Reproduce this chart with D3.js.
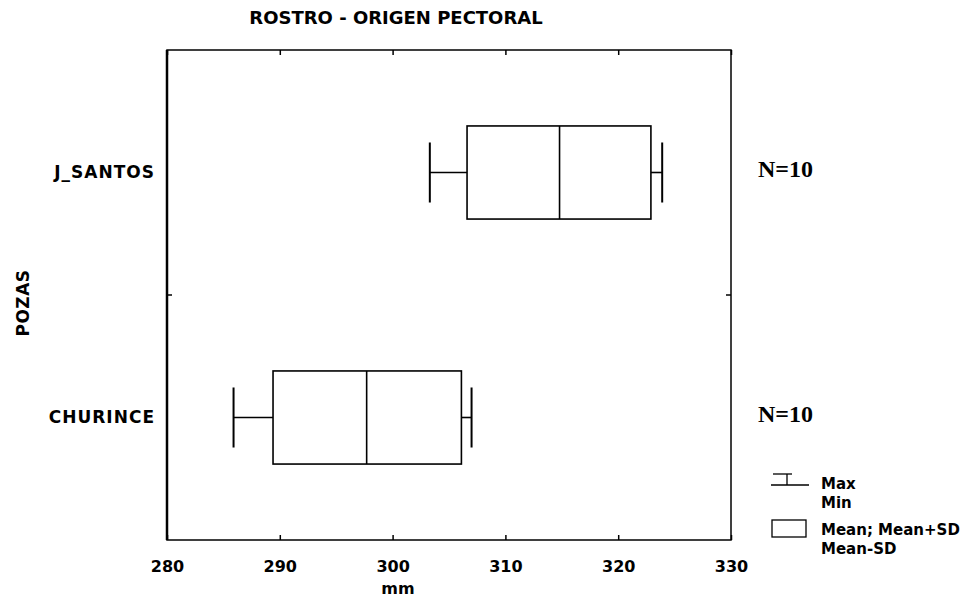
<!DOCTYPE html>
<html>
<head>
<meta charset="utf-8">
<script src="https://cdn.jsdelivr.net/npm/d3@7"></script>
<style>
  html, body { margin: 0; padding: 0; background: #fff; }
  svg { display: block; }
  text { font-family: "DejaVu Sans", sans-serif; font-weight: bold; fill: #000; }
</style>
</head>
<body>
<svg id="chart" width="976" height="602"></svg>
<script>
// ---- data ----
const categories   = ["J_SANTOS", "CHURINCE"];
const minValues    = [303.3, 285.9];
const meanMinusSD  = [306.6, 289.4];
const meanValues   = [314.8, 297.7];
const meanPlusSD   = [322.9, 306.1];
const maxValues    = [323.9, 307.0];
const nValues      = [10, 10];
const xTickValues  = [280, 290, 300, 310, 320, 330];
const titleText    = "ROSTRO - ORIGEN PECTORAL";
const xLabel       = "mm";
const yLabel       = "POZAS";
const legendItems  = [["Max", "Min"], ["Mean; Mean+SD", "Mean-SD"]];

const rows = categories.map((c, i) => ({
  cat: c, min: minValues[i], lo: meanMinusSD[i], mean: meanValues[i],
  hi: meanPlusSD[i], max: maxValues[i], n: nValues[i]
}));

// ---- layout ----
const svg = d3.select("#chart");
const plot = { left: 167, right: 731, top: 50, bottom: 540 };
const x = d3.scaleLinear().domain([280, 330]).range([plot.left, plot.right]);
const y = d3.scaleBand().domain(categories).range([plot.top, plot.bottom]);
const bw = y.bandwidth();
const boxH = bw * 0.38;
const capH = bw * 0.245;
const cy = d => y(d) + bw / 2;

// title
svg.append("text").attr("x", 396).attr("y", 24).attr("text-anchor", "middle")
  .style("font-size", "18px").text(titleText);

// frame
svg.append("rect").attr("x", plot.left).attr("y", plot.top)
  .attr("width", plot.right - plot.left).attr("height", plot.bottom - plot.top)
  .attr("fill", "none").attr("stroke", "#000").attr("stroke-width", 1.5);
svg.append("line").attr("x1", plot.left).attr("x2", plot.left)
  .attr("y1", plot.top).attr("y2", plot.bottom)
  .attr("stroke", "#000").attr("stroke-width", 2.5);

// bottom axis (inward ticks + labels)
const xAxis = svg.append("g").attr("transform", `translate(0,${plot.bottom})`)
  .call(d3.axisBottom(x).tickValues(xTickValues).tickSize(-5).tickPadding(21).tickFormat(d3.format("d")));
xAxis.select(".domain").remove();
xAxis.selectAll("line").attr("stroke", "#000").attr("stroke-width", 1.5);
xAxis.selectAll("text").style("font-size", "16px").style("font-family", "DejaVu Sans").style("font-weight", "bold");

// top axis ticks (inward, no labels)
const xTop = svg.append("g").attr("transform", `translate(0,${plot.top})`)
  .call(d3.axisTop(x).tickValues(xTickValues).tickSize(-5).tickFormat(""));
xTop.select(".domain").remove();
xTop.selectAll("line").attr("stroke", "#000").attr("stroke-width", 1.5);

// left axis labels
const yAxis = svg.append("g").attr("transform", `translate(${plot.left},0)`)
  .call(d3.axisLeft(y).tickSize(0).tickPadding(12));
yAxis.select(".domain").remove();
yAxis.selectAll("text").style("font-size", "17px").style("font-family", "DejaVu Sans")
  .style("font-weight", "bold").style("letter-spacing", "1px");

// category boundary ticks on left and right borders
const boundaries = categories.slice(1).map(c => y(c));
boundaries.forEach(b => {
  svg.append("line").attr("x1", plot.left).attr("x2", plot.left + 5).attr("y1", b).attr("y2", b)
    .attr("stroke", "#000").attr("stroke-width", 1.5);
  svg.append("line").attr("x1", plot.right).attr("x2", plot.right - 5).attr("y1", b).attr("y2", b)
    .attr("stroke", "#000").attr("stroke-width", 1.5);
});

// axis titles
svg.append("text").attr("x", 398).attr("y", 594).attr("text-anchor", "middle")
  .style("font-size", "16px").text(xLabel);
svg.append("text").attr("transform", `translate(29,${(plot.top + plot.bottom) / 2 + 8}) rotate(-90)`)
  .attr("text-anchor", "middle").style("font-size", "17px").style("letter-spacing", "0.5px").text(yLabel);

// boxes
const g = svg.append("g").attr("stroke", "#000").attr("stroke-width", 1.6).attr("fill", "none");
const items = g.selectAll("g.item").data(rows).join("g").attr("class", "item");
items.append("line").attr("x1", d => x(d.min)).attr("x2", d => x(d.lo))
  .attr("y1", d => cy(d.cat)).attr("y2", d => cy(d.cat));
items.append("line").attr("x1", d => x(d.hi)).attr("x2", d => x(d.max))
  .attr("y1", d => cy(d.cat)).attr("y2", d => cy(d.cat));
items.append("line").attr("x1", d => x(d.min)).attr("x2", d => x(d.min))
  .attr("y1", d => cy(d.cat) - capH / 2).attr("y2", d => cy(d.cat) + capH / 2).attr("stroke-width", 2);
items.append("line").attr("x1", d => x(d.max)).attr("x2", d => x(d.max))
  .attr("y1", d => cy(d.cat) - capH / 2).attr("y2", d => cy(d.cat) + capH / 2).attr("stroke-width", 2);
items.append("rect").attr("x", d => x(d.lo)).attr("width", d => x(d.hi) - x(d.lo))
  .attr("y", d => cy(d.cat) - boxH / 2).attr("height", boxH).attr("fill", "#fff");
items.append("line").attr("x1", d => x(d.mean)).attr("x2", d => x(d.mean))
  .attr("y1", d => cy(d.cat) - boxH / 2).attr("y2", d => cy(d.cat) + boxH / 2);

// N labels
svg.selectAll("text.nlab").data(rows).join("text").attr("class", "nlab")
  .attr("x", 758).attr("y", d => cy(d.cat) + 4)
  .style("font-family", "'Liberation Serif', 'Times New Roman', serif")
  .style("font-size", "24px").style("font-weight", "bold")
  .text(d => "N=" + d.n);

// legend
const lg = svg.append("g").attr("stroke", "#000").attr("stroke-width", 1.3).attr("fill", "none");
lg.append("line").attr("x1", 773).attr("x2", 792).attr("y1", 474).attr("y2", 474);
lg.append("line").attr("x1", 787).attr("x2", 787).attr("y1", 474).attr("y2", 485);
lg.append("line").attr("x1", 771).attr("x2", 809).attr("y1", 485).attr("y2", 485);
lg.append("rect").attr("x", 772).attr("y", 520).attr("width", 34).attr("height", 17);

const legendY = [[489, 508], [535, 554]];
legendItems.forEach((pair, i) => {
  pair.forEach((t, j) => {
    svg.append("text").attr("x", 821).attr("y", legendY[i][j])
      .style("font-size", "15px").text(t);
  });
});
</script>
</body>
</html>
